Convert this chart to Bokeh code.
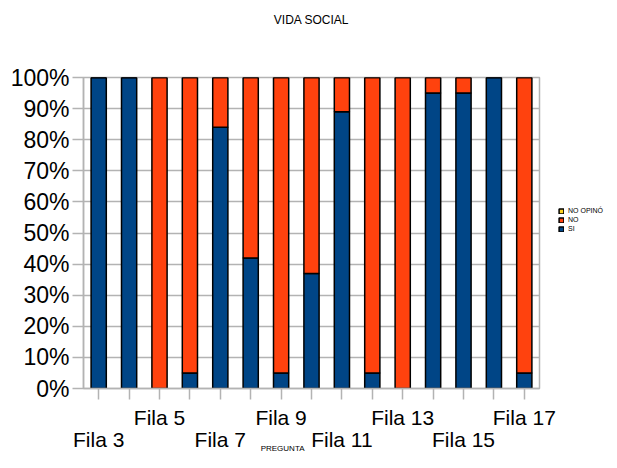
from bokeh.plotting import figure
from bokeh.models import (ColumnDataSource, FixedTicker, LinearAxis, Range1d,
                          PrintfTickFormatter, Legend, LegendItem)
from bokeh.embed import file_html
from bokeh.resources import INLINE

categories = ["Fila 3", "Fila 4", "Fila 5", "Fila 6", "Fila 7", "Fila 8", "Fila 9",
              "Fila 10", "Fila 11", "Fila 12", "Fila 13", "Fila 14", "Fila 15",
              "Fila 16", "Fila 17"]
si = [100, 100, 0, 5, 84, 42, 5, 37, 89, 5, 0, 95, 95, 100, 5]
no = [0, 0, 100, 95, 16, 58, 95, 63, 11, 95, 100, 5, 5, 0, 95]
no_opino = [0, 0, 0, 0, 0, 0, 0, 0, 0, 0, 0, 0, 0, 0, 0]
series_names = ["SI", "NO", "NO OPINÓ"]
y_ticks = [0, 10, 20, 30, 40, 50, 60, 70, 80, 90, 100]
title_text = "VIDA SOCIAL"

BLUE, ORANGE, YELLOW = "#004586", "#ff420e", "#ffd320"
GRID = "#b3b3b3"
FONT = "Liberation Sans"
TXT = "black"

xpos = list(range(len(categories)))
src = ColumnDataSource(dict(x=xpos, si=si, no=no, noop=no_opino))

p = figure(frame_width=456, frame_height=311,
           min_border_left=83, min_border_top=77, min_border_right=62,
           min_border_bottom=64, x_range=Range1d(-0.5, len(categories) - 0.5),
           y_range=Range1d(0, 100), output_backend="svg", toolbar_location=None,
           x_axis_location=None)

rs = p.vbar_stack(["si", "no", "noop"], x="x", width=0.5, source=src,
                  color=[BLUE, ORANGE, YELLOW], line_color="black", line_width=1.5)

p.outline_line_color = GRID
p.outline_line_width = 1.5
p.xgrid.visible = False
p.ygrid.grid_line_color = GRID
p.ygrid.grid_line_width = 1.5
p.ygrid.ticker = FixedTicker(ticks=y_ticks)

# title drawn as the label of a bare axis above the frame
ta = LinearAxis(ticker=FixedTicker(ticks=[]), axis_label=title_text)
ta.axis_line_color = None
ta.major_tick_line_color = None
ta.minor_tick_line_color = None
ta.major_tick_out = 0
ta.major_tick_in = 0
ta.major_label_standoff = 0
ta.axis_label_text_font = FONT
ta.axis_label_text_font_size = "12px"
ta.axis_label_text_font_style = "normal"
ta.axis_label_text_color = TXT
ta.axis_label_standoff = 51
p.add_layout(ta, "above")

ya = p.yaxis[0]
ya.ticker = FixedTicker(ticks=y_ticks)
ya.formatter = PrintfTickFormatter(format="%d%%")
ya.axis_line_color = GRID
ya.axis_line_width = 1.5
ya.major_tick_line_color = GRID
ya.major_tick_line_width = 1.5
ya.major_tick_out = 11
ya.major_tick_in = 0
ya.minor_tick_line_color = None
ya.major_label_text_font = FONT
ya.major_label_text_font_size = "23px"
ya.major_label_text_color = TXT
ya.major_label_standoff = 3

upper = {i: (categories[i] if i % 4 == 2 else "") for i in xpos}
lower = {i: (categories[i] if i % 4 == 0 else "") for i in xpos}

xa1 = LinearAxis(ticker=FixedTicker(ticks=xpos), major_label_overrides=upper)
xa1.axis_line_color = GRID
xa1.axis_line_width = 1.5
xa1.major_tick_line_color = GRID
xa1.major_tick_line_width = 1.5
xa1.major_tick_out = 11
xa1.major_tick_in = 0
xa1.minor_tick_line_color = None
xa1.major_label_text_font = FONT
xa1.major_label_text_font_size = "21px"
xa1.major_label_text_color = TXT
xa1.major_label_standoff = 6
p.add_layout(xa1, "below")

xa2 = LinearAxis(ticker=FixedTicker(ticks=[i for i in xpos if i % 4 == 0]),
                 major_label_overrides=lower,
                 axis_label="PREGUNTA" + "\u00a0" * 26)
xa2.axis_line_color = None
xa2.major_tick_line_color = None
xa2.minor_tick_line_color = None
xa2.major_tick_out = 0
xa2.major_tick_in = 0
xa2.major_label_text_font = FONT
xa2.major_label_text_font_size = "21px"
xa2.major_label_text_color = TXT
xa2.major_label_standoff = -4
xa2.axis_label_text_font = FONT
xa2.axis_label_text_font_size = "8px"
xa2.axis_label_text_font_style = "normal"
xa2.axis_label_text_color = TXT
xa2.axis_label_standoff = -10
p.add_layout(xa2, "below")

items = [LegendItem(label=series_names[2], renderers=[rs[2]]),
         LegendItem(label=series_names[1], renderers=[rs[1]]),
         LegendItem(label=series_names[0], renderers=[rs[0]])]
leg = Legend(items=items, location=(19, 156), glyph_width=6, glyph_height=6,
             label_height=6, spacing=2, label_standoff=4, padding=0, margin=0,
             label_text_font=FONT, label_text_font_size="7px",
             label_text_color=TXT,
             border_line_color=None, background_fill_alpha=0)
p.add_layout(leg, "right")

open("out.html", "w").write(file_html(p, INLINE))
